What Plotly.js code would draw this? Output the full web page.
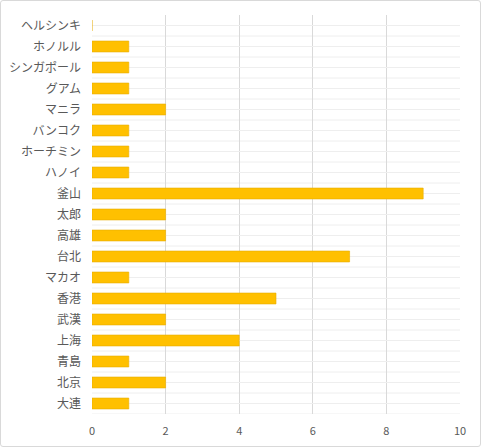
<!DOCTYPE html>
<html>
<head>
<meta charset="utf-8">
<script src="https://cdn.plot.ly/plotly-3.0.1.min.js"></script>
<style>
  body { margin: 0; background: #fff; }
  #chart { position: absolute; left: 0; top: 0; width: 481px; height: 447px; }
  #frame { position: absolute; left: 0; top: 0; width: 479px; height: 445px;
           border: 1px solid #d9d9d9; border-radius: 3px; pointer-events: none; }
</style>
</head>
<body>
<div id="chart"></div>
<div id="frame"></div>
<script>
// 都市名（下から上の順）
const cities = ['大連', '北京', '青島', '上海', '武漢', '香港', 'マカオ', '台北', '高雄', '太郎',
    '釜山', 'ハノイ', 'ホーチミン', 'バンコク', 'マニラ', 'グアム', 'シンガポール', 'ホノルル', 'ヘルシンキ'];
const counts = [1, 2, 1, 4, 2, 5, 1, 7, 2, 2, 9, 1, 1, 1, 2, 1, 1, 1, 0];
const xTicks = [0, 2, 4, 6, 8, 10];

const data = [{
    type: 'bar',
    orientation: 'h',
    y: cities,
    x: counts,
    marker: { color: '#FFC000', line: { color: '#e8ad00', width: 0.6 } },
    hoverinfo: 'x+y'
}];

// カテゴリ境界の薄い横線
const boundaryLines = cities.map((c, i) => ({
    type: 'line', xref: 'paper', x0: 0, x1: 1, yref: 'y', y0: i - 0.5, y1: i - 0.5,
    layer: 'below', line: { color: '#eeeeee', width: 1 }
}));

const layout = {
    width: 481,
    height: 447,
    margin: { l: 92, r: 21, t: 15, b: 33 },
    paper_bgcolor: 'rgba(0,0,0,0)',
    plot_bgcolor: 'rgba(0,0,0,0)',
    font: { family: '"Noto Sans CJK JP", sans-serif', size: 11, color: '#595959' },
    showlegend: false,
    bargap: 0.48,
    xaxis: {
        range: [0, 10],
        tickvals: xTicks,
        showgrid: true,
        gridcolor: '#d9d9d9',
        zeroline: false,
        showline: false,
        ticks: '',
        ticklabelstandoff: 9,
        tickfont: { size: 11, color: '#595959' },
        fixedrange: true
    },
    yaxis: {
        type: 'category',
        categoryorder: 'array',
        categoryarray: cities,
        range: [-0.5, cities.length - 0.5],
        showgrid: true,
        gridcolor: '#eeeeee',
        showline: false,
        ticks: '',
        ticklabelstandoff: 10,
        tickfont: { size: 12, color: '#595959' },
        fixedrange: true
    },
    shapes: boundaryLines
};

Plotly.newPlot('chart', data, layout, { displayModeBar: false, staticPlot: true });
</script>
</body>
</html>
